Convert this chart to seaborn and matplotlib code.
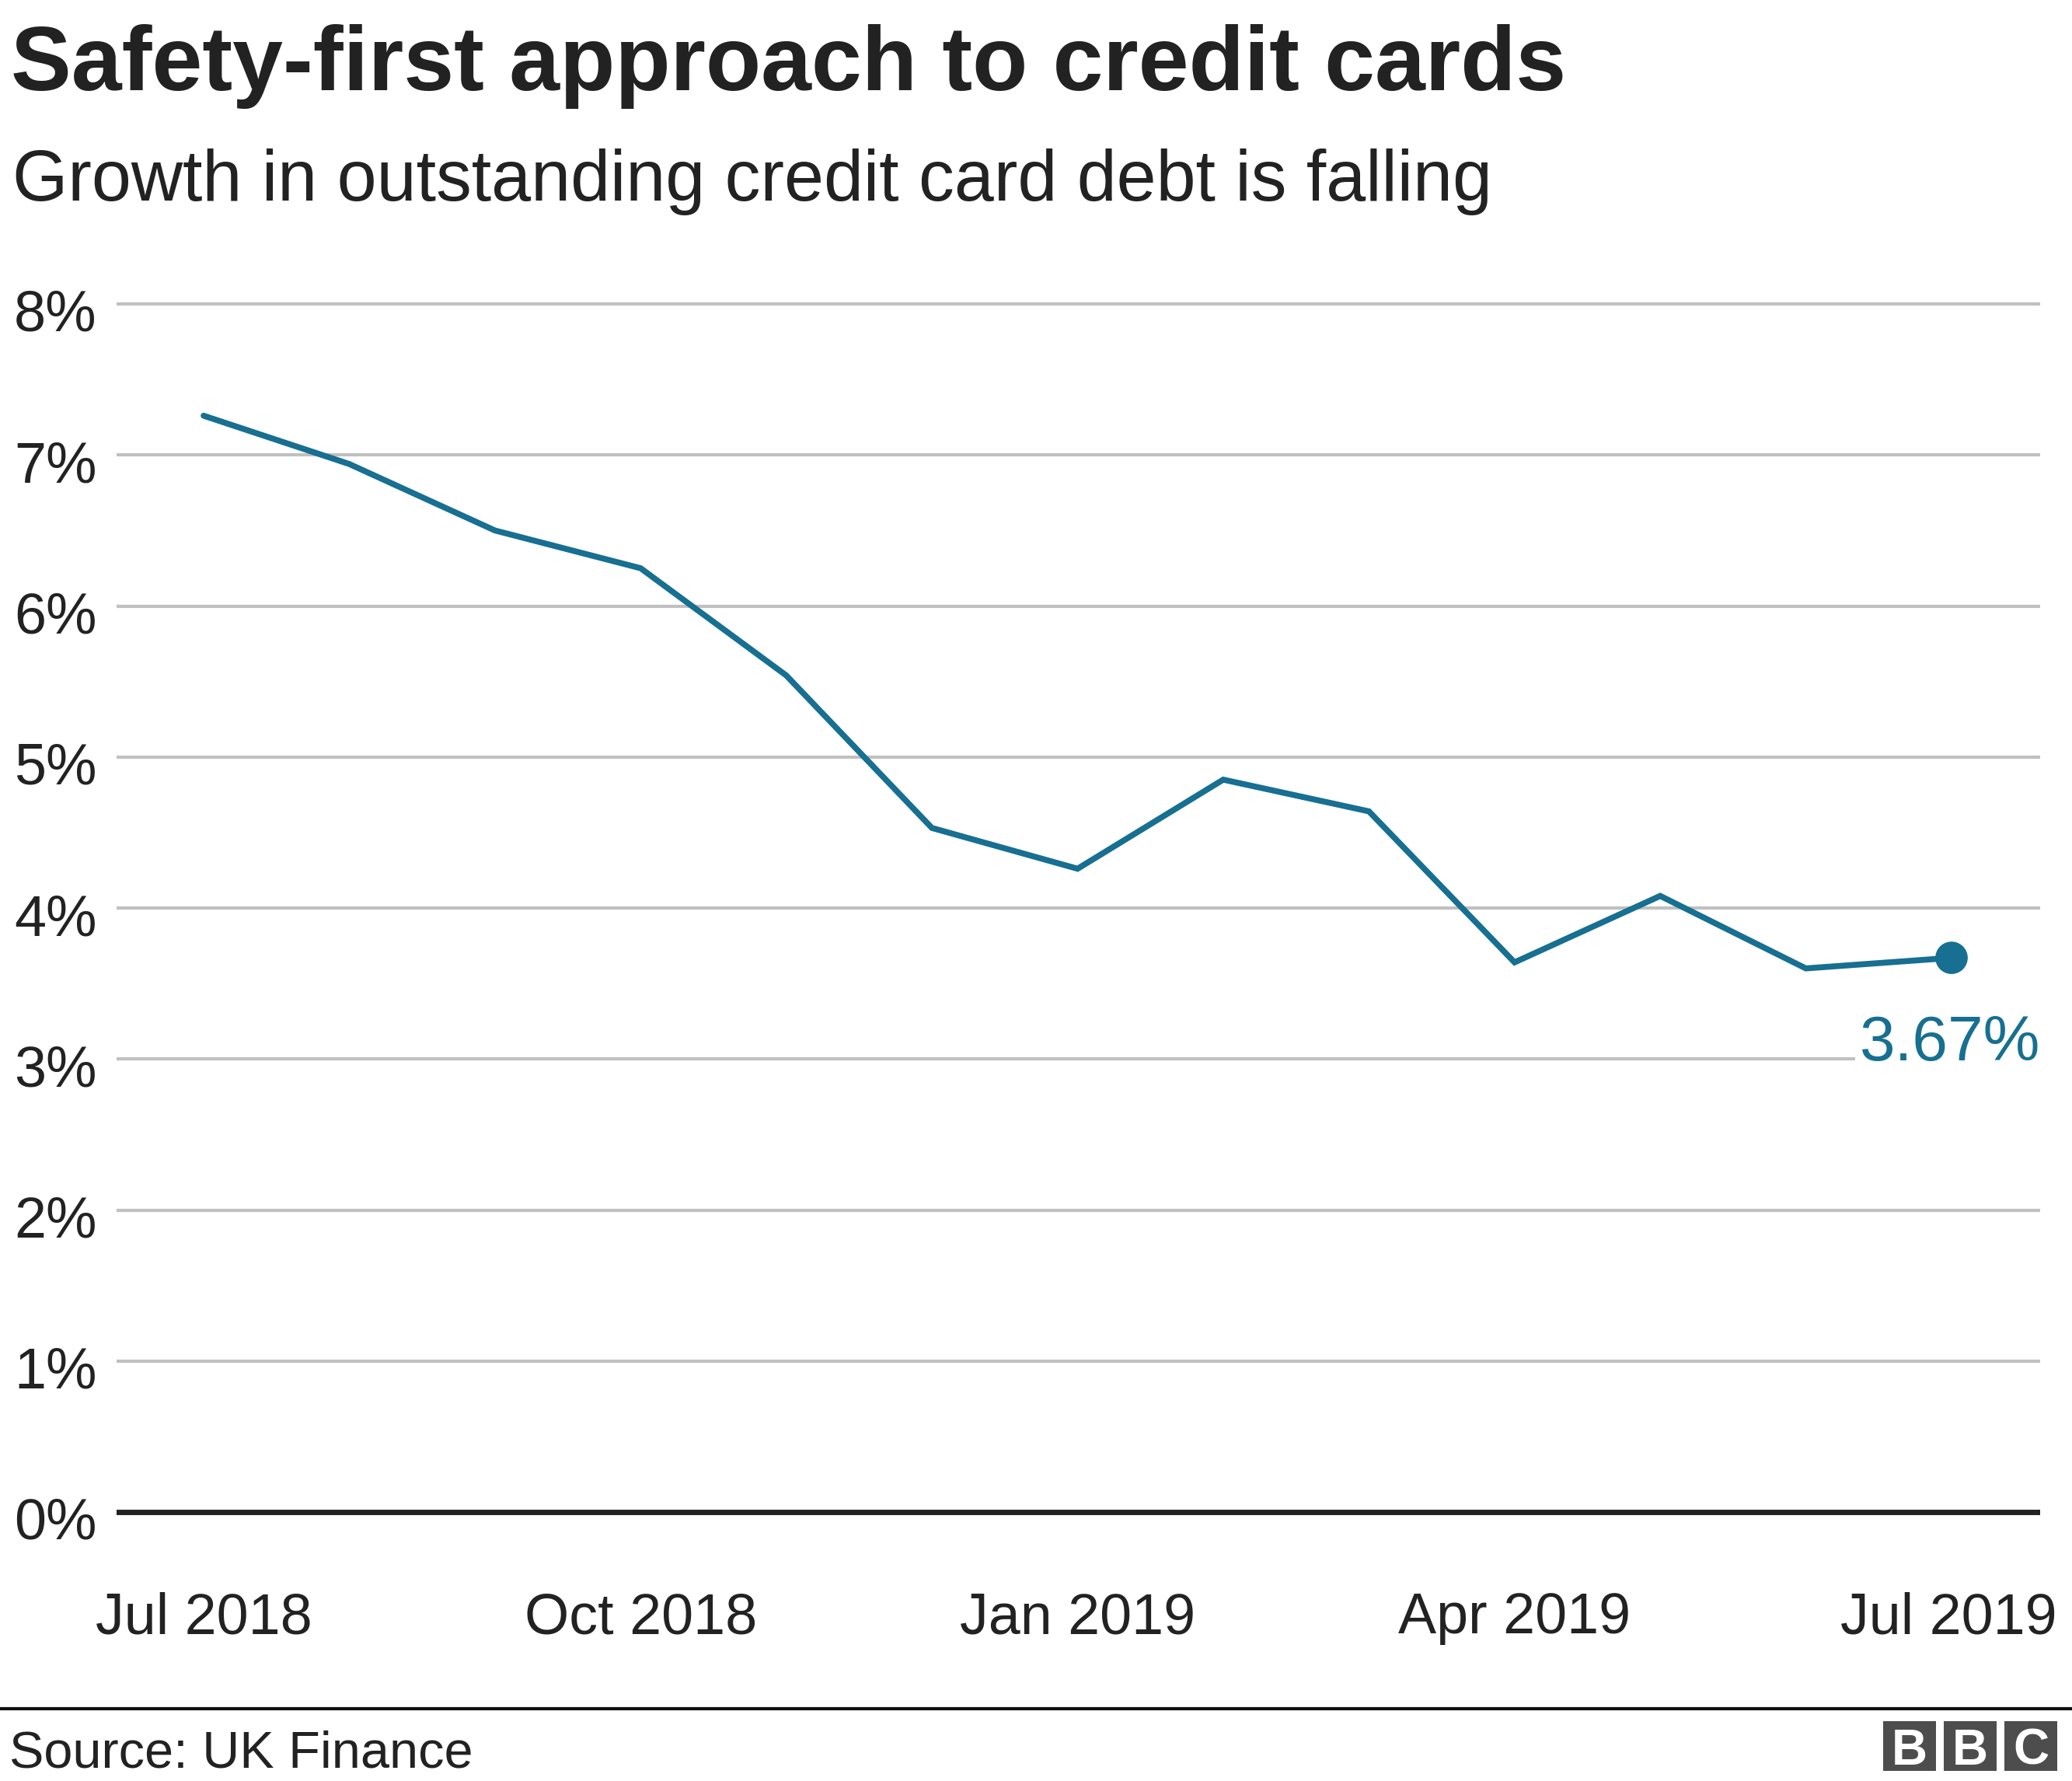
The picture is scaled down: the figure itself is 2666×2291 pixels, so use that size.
import matplotlib
matplotlib.use("Agg")
import matplotlib.pyplot as plt
import matplotlib.transforms as mtransforms
from matplotlib.patches import Rectangle
import seaborn as sns
import pandas as pd

# ---- data ----
months = ["Jul 2018", "Aug 2018", "Sep 2018", "Oct 2018", "Nov 2018", "Dec 2018",
          "Jan 2019", "Feb 2019", "Mar 2019", "Apr 2019", "May 2019", "Jun 2019", "Jul 2019"]
growth = [7.26, 6.94, 6.50, 6.25, 5.54, 4.53, 4.26, 4.85, 4.64, 3.64, 4.08, 3.60, 3.67]
xtick_idx = [0, 3, 6, 9, 12]
xtick_labels = ["Jul 2018", "Oct 2018", "Jan 2019", "Apr 2019", "Jul 2019"]
ytick_vals = [0, 1, 2, 3, 4, 5, 6, 7, 8]
ytick_labels = ["0%", "1%", "2%", "3%", "4%", "5%", "6%", "7%", "8%"]
last_label = "3.67%"

title = "Safety-first approach to credit cards"
subtitle = "Growth in outstanding credit card debt is falling"
source = "Source: UK Finance"

LINE = "#176f91"
FONT = ["Liberation Sans", "DejaVu Sans"]

sns.set_theme(style="white")
plt.rcParams["font.family"] = FONT

W, H = 2666, 2291
fig = plt.figure(figsize=(W / 100, H / 100), dpi=100)

df = pd.DataFrame({"idx": list(range(len(months))), "month": months, "growth": growth})

# axes placement (pixels)
ax_left, ax_right = 150, 2625
ax_top, ax_bottom = 381, 1955
ax = fig.add_axes([ax_left / W, 1 - ax_bottom / H, (ax_right - ax_left) / W, (ax_bottom - ax_top) / H])

sns.lineplot(data=df, x="idx", y="growth", ax=ax, color=LINE, linewidth=5.5,
             solid_joinstyle="miter", zorder=3)
sns.scatterplot(data=df.iloc[[-1]], x="idx", y="growth", ax=ax, color=LINE, s=900,
                edgecolor="none", zorder=4)

px_per_month = (2511 - 262) / 12
ax.set_xlim(-(262 - ax_left) / px_per_month, 12 + (ax_right - 2511) / px_per_month)
px_per_pct = (1945 - 391) / 8
ax.set_ylim(-(ax_bottom - 1945) / px_per_pct, 8 + (391 - ax_top) / px_per_pct)

for v in ytick_vals:
    if v == 0:
        ax.axhline(v, color="#222222", linewidth=5.0, zorder=2)
    else:
        ax.axhline(v, color="#c0c0c0", linewidth=3.0, zorder=1)

for s in ax.spines.values():
    s.set_visible(False)
ax.grid(False)

ax.set_yticks(ytick_vals)
ax.set_yticklabels(ytick_labels, fontsize=53, color="#222222", ha="left")
ax.tick_params(axis="y", length=0, pad=(ax_left - 18) * 0.72)
for lab in ax.get_yticklabels():
    lab.set_transform(lab.get_transform() + mtransforms.ScaledTranslation(0, -8 / 100, fig.dpi_scale_trans))

ax.set_xticks(xtick_idx)
ax.set_xticklabels(xtick_labels, fontsize=53, color="#222222")
ax.tick_params(axis="x", length=0, pad=92 * 0.72)
xl = ax.get_xticklabels()
xl[-1].set_transform(xl[-1].get_transform() + mtransforms.ScaledTranslation(-4 / 100, 0, fig.dpi_scale_trans))
ax.set_xlabel("")
ax.set_ylabel("")

ax.text(12.61, 3.10, last_label, ha="right", va="center", fontsize=59, color=LINE,
        bbox=dict(facecolor="white", edgecolor="none", pad=4), zorder=5)

# titles
fig.text(14 / W, 1 - 116 / H, title, fontsize=84, fontweight="bold", color="#222222", va="baseline", ha="left")
fig.text(16 / W, 1 - 258 / H, subtitle, fontsize=66, color="#222222", va="baseline", ha="left")

# footer rule
fig.add_artist(plt.Line2D([0, 1], [1 - 2198 / H, 1 - 2198 / H], color="#111111", linewidth=3,
                          transform=fig.transFigure))
fig.text(12 / W, 1 - 2274 / H, source, fontsize=48, color="#222222", va="baseline", ha="left")

# BBC blocks
bw, bh, gap = 68, 64, 10
bx0, by0 = 2423, 2214
for i, ch in enumerate("BBC"):
    x0 = bx0 + i * (bw + gap)
    fig.add_artist(Rectangle((x0 / W, 1 - (by0 + bh) / H), bw / W, bh / H,
                             transform=fig.transFigure, facecolor="#4d4d4d", edgecolor="none"))
    fig.text((x0 + bw / 2) / W, 1 - (by0 + bh / 2) / H, ch, fontsize=46, fontweight="bold",
             color="white", ha="center", va="center_baseline")

fig.savefig("out.png", dpi=100, facecolor="white")
